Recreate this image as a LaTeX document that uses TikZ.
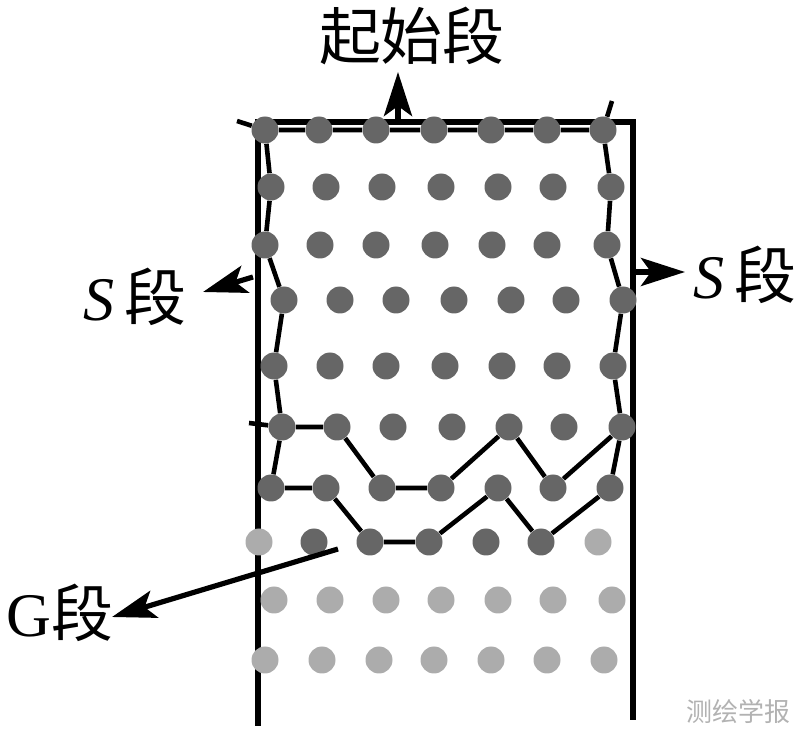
\documentclass[tikz,border=0pt]{standalone}
\usepackage{fontspec}
\setmainfont{Liberation Serif}
\newfontfamily\cjk{Noto Sans CJK SC}
\usetikzlibrary{arrows.meta}
\definecolor{dotdark}{RGB}{102,102,102}
\definecolor{dotlight}{RGB}{172,172,172}
\tikzstyle{dot} = [circle, fill=dotdark, inner sep=0pt, minimum size=13.5pt]
\tikzstyle{gdot} = [dot, fill=dotlight]
\tikzstyle{wall} = [draw, line width=2.7pt]
\tikzstyle{bound} = [draw, line width=2.3pt, line join=round]
\tikzstyle{line} = [draw, line width=2.6pt, -{Stealth[length=22pt, width=14pt, inset=5pt]}]
\tikzstyle{lab} = [inner sep=0pt, font=\fontsize{31}{31}\selectfont]

\begin{document}
\begin{tikzpicture}[x=0.5pt, y=-0.5pt]
        \useasboundingbox (0,0) rectangle (800,733);
        % Rahmen
        \draw[wall] (258,726) -- (258,122) -- (633,122) -- (633,720);

        % Punkte
        \foreach \x [count=\c] in {265,319,376,434,491,547,603}
            \node[dot] (a1-\c) at (\x,130) {};
        \foreach \x [count=\c] in {271,326,382,441,498,553,611}
            \node[dot] (a2-\c) at (\x,187) {};
        \foreach \x [count=\c] in {265,320,376,435,492,547,607}
            \node[dot] (a3-\c) at (\x,245) {};
        \foreach \x [count=\c] in {284,340,396,454,511,566,623}
            \node[dot] (a4-\c) at (\x,300) {};
        \foreach \x [count=\c] in {274,330,386,445,502,557,613}
            \node[dot] (a5-\c) at (\x,366) {};
        \foreach \x [count=\c] in {282,337,393,452,509,564,622}
            \node[dot] (a6-\c) at (\x,427) {};
        \foreach \x [count=\c] in {271,326,382,441,498,553,610}
            \node[dot] (a7-\c) at (\x,488) {};
        \foreach \x/\s [count=\c] in {259/gdot,314/dot,370/dot,429/dot,486/dot,541/dot,598/gdot}
            \node[\s] (a8-\c) at (\x,542) {};
        \foreach \x [count=\c] in {274,330,386,441,498,553,612}
            \node[gdot] (a9-\c) at (\x,600) {};
        \foreach \x [count=\c] in {265,322,379,434,491,547,604}
            \node[gdot] (a10-\c) at (\x,660) {};

        % Grenzen
        \coordinate (tl) at (237,121);
        \coordinate (tr) at (612,101);
        \coordinate (tm) at (249,423);
        \path[bound] (tl) -- (a1-1) -- (a1-2) -- (a1-3) -- (a1-4) -- (a1-5) -- (a1-6) -- (a1-7) -- (tr);
        \path[bound] (a1-1) -- (a2-1) -- (a3-1) -- (a4-1) -- (a5-1) -- (a6-1) -- (a7-1);
        \path[bound] (a1-7) -- (a2-7) -- (a3-7) -- (a4-7) -- (a5-7) -- (a6-7) -- (a7-7);
        \path[bound] (tm) -- (a6-1) -- (a6-2) -- (a7-3) -- (a7-4) -- (a6-5) -- (a7-6) -- (a6-7);
        \path[bound] (a7-1) -- (a7-2) -- (a8-3) -- (a8-4) -- (a7-5) -- (a8-6) -- (a7-7);

        % Beschriftung
        \node[lab] (start) at (412,36) {\cjk 起始段};
        \node[lab] (sl) at (135,297) {\textit{S}\,{\cjk 段}};
        \node[lab] (sr) at (745,275) {\textit{S}\,{\cjk 段}};
        \node[lab] (gl) at (60,613) {G{\cjk 段}};
        \node[text=black!30, font=\cjk\fontsize{13}{13}\selectfont] (mark) at (738,712) {测绘学报};

        % Pfeile
        \coordinate (st0) at (398,119);
        \coordinate (st1) at (398,72);
        \coordinate (sl0) at (253,277);
        \coordinate (sl1) at (203,292);
        \coordinate (sr0) at (634,272);
        \coordinate (sr1) at (685,272);
        \coordinate (g0) at (338,549);
        \coordinate (g1) at (112,617);
        \path[line] (st0) -- (st1);
        \path[line] (sl0) -- (sl1);
        \path[line] (sr0) -- (sr1);
        \path[line] (g0) -- (g1);
    \end{tikzpicture}
\end{document}
